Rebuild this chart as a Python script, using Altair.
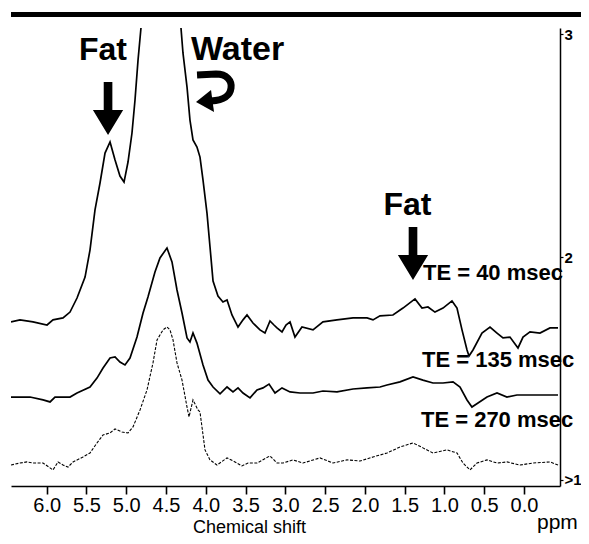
import altair as alt
import pandas as pd

# ---------------- data ----------------
# TE = 40 msec (top trace)
te40_ppm = [6.449, 6.336, 6.172, 5.996, 5.921, 5.795, 5.707, 5.619, 5.518, 5.456,
            5.393, 5.330, 5.267, 5.204, 5.141, 5.079, 5.028, 4.978, 4.928, 4.890,
            4.852, 4.815, 4.752, 4.563, 4.375, 4.312, 4.287, 4.236, 4.199, 4.161,
            4.111, 4.073, 4.035, 3.985, 3.947, 3.909, 3.847, 3.784, 3.733, 3.671,
            3.595, 3.532, 3.482, 3.407, 3.319, 3.256, 3.193, 3.143, 3.105, 3.042,
            2.992, 2.941, 2.879, 2.791, 2.652, 2.527, 2.351, 2.149, 1.973, 1.898,
            1.810, 1.647, 1.521, 1.370, 1.282, 1.207, 1.119, 1.018, 0.905, 0.842,
            0.779, 0.716, 0.691, 0.641, 0.528, 0.427, 0.339, 0.264, 0.176, 0.075,
            0.012, -0.076, -0.201, -0.327, -0.428]
te40_sig = [1.709, 1.718, 1.709, 1.695, 1.718, 1.727, 1.753, 1.816, 1.910, 2.031,
            2.211, 2.332, 2.466, 2.516, 2.435, 2.363, 2.336, 2.426, 2.556, 2.704,
            2.883, 3.027, 3.287, 3.691, 3.287, 3.027, 2.915, 2.762, 2.614, 2.525,
            2.493, 2.448, 2.345, 2.197, 2.045, 1.892, 1.825, 1.798, 1.807, 1.740,
            1.686, 1.718, 1.740, 1.704, 1.673, 1.659, 1.713, 1.695, 1.682, 1.664,
            1.695, 1.709, 1.641, 1.686, 1.673, 1.709, 1.718, 1.727, 1.727, 1.718,
            1.736, 1.740, 1.771, 1.812, 1.771, 1.776, 1.753, 1.771, 1.803, 1.771,
            1.673, 1.583, 1.556, 1.583, 1.659, 1.686, 1.659, 1.637, 1.641, 1.592,
            1.641, 1.664, 1.659, 1.682, 1.682]

# TE = 135 msec (middle trace)
te135_ppm = [6.449, 6.210, 6.046, 5.958, 5.896, 5.707, 5.619, 5.456, 5.368, 5.292,
             5.204, 5.141, 5.079, 5.016, 4.953, 4.865, 4.789, 4.727, 4.639, 4.576,
             4.488, 4.425, 4.362, 4.299, 4.236, 4.199, 4.161, 4.111, 4.035, 3.972,
             3.909, 3.821, 3.733, 3.658, 3.595, 3.532, 3.444, 3.356, 3.281, 3.205,
             3.130, 3.042, 2.941, 2.816, 2.652, 2.527, 2.351, 2.149, 1.973, 1.810,
             1.722, 1.559, 1.395, 1.270, 1.144, 1.018, 0.892, 0.804, 0.716, 0.654,
             0.578, 0.465, 0.339, 0.214, 0.088, -0.113, -0.428]
te135_sig = [1.372, 1.372, 1.359, 1.350, 1.372, 1.372, 1.390, 1.417, 1.457, 1.502,
             1.547, 1.552, 1.529, 1.516, 1.547, 1.641, 1.749, 1.821, 1.933, 1.996,
             2.040, 1.978, 1.852, 1.749, 1.637, 1.619, 1.659, 1.614, 1.516, 1.448,
             1.417, 1.386, 1.417, 1.395, 1.413, 1.390, 1.368, 1.404, 1.413, 1.430,
             1.390, 1.413, 1.395, 1.390, 1.390, 1.399, 1.395, 1.408, 1.413, 1.417,
             1.426, 1.440, 1.462, 1.448, 1.435, 1.435, 1.440, 1.417, 1.359, 1.327,
             1.345, 1.372, 1.390, 1.372, 1.381, 1.381, 1.381]

# TE = 270 msec (bottom trace)
te270_ppm = [6.449, 6.336, 6.248, 6.172, 6.046, 5.921, 5.858, 5.795, 5.732, 5.669,
             5.544, 5.456, 5.368, 5.292, 5.204, 5.141, 5.053, 4.978, 4.915, 4.827,
             4.739, 4.664, 4.613, 4.538, 4.488, 4.450, 4.412, 4.362, 4.299, 4.236,
             4.211, 4.161, 4.098, 4.073, 4.010, 3.947, 3.859, 3.733, 3.633, 3.545,
             3.469, 3.356, 3.193, 3.105, 3.029, 2.904, 2.778, 2.564, 2.401, 2.225,
             2.061, 1.898, 1.722, 1.559, 1.395, 1.270, 1.144, 0.968, 0.842, 0.767,
             0.679, 0.591, 0.465, 0.339, 0.214, 0.050, -0.113, -0.327, -0.428]
te270_sig = [1.067, 1.076, 1.081, 1.076, 1.076, 1.045, 1.081, 1.067, 1.058, 1.081,
             1.103, 1.121, 1.166, 1.202, 1.211, 1.229, 1.215, 1.211, 1.238, 1.314,
             1.404, 1.525, 1.628, 1.673, 1.686, 1.673, 1.628, 1.525, 1.448, 1.327,
             1.283, 1.359, 1.314, 1.305, 1.135, 1.090, 1.067, 1.099, 1.081, 1.063,
             1.076, 1.076, 1.108, 1.076, 1.076, 1.090, 1.076, 1.099, 1.076, 1.090,
             1.085, 1.103, 1.121, 1.148, 1.166, 1.144, 1.121, 1.135, 1.121, 1.076,
             1.045, 1.076, 1.090, 1.076, 1.081, 1.067, 1.076, 1.081, 1.067]

ppm_ticks = [6.0, 5.5, 5.0, 4.5, 4.0, 3.5, 3.0, 2.5, 2.0, 1.5, 1.0, 0.5, 0.0]
signal_ticks = [1, 2, 3]

# annotations (data coordinates)
fat_text = ["Fat", "Fat"]
fat_ppm = [5.292, 1.464]
fat_sig = [2.883, 2.188]

water_text = ["Water"]
water_ppm = [3.601]
water_sig = [2.883]

te_text = ["TE = 40 msec", "TE = 135 msec", "TE = 270 msec"]
te_ppm = [1.270, 1.282, 1.295]
te_sig = [1.897, 1.507, 1.238]

arrow_ppm = [5.229, 1.395]
arrow_sig = [2.666, 2.016]

curl_ppm = [3.884]
curl_sig = [2.749]

unit_text = ["ppm"]
unit_ppm = [-0.164]
unit_sig = [0.780]

x_domain = [6.449, -0.453]
y_domain = [0.973, 3.027]

# ---------------- chart ----------------
NARROW = "Liberation Sans Narrow, Arial Narrow, sans-serif"
BOLD = "Liberation Sans, Arial, Helvetica, sans-serif"

x_enc = alt.X(
    "ppm:Q",
    scale=alt.Scale(domain=x_domain, nice=False, zero=False),
    axis=alt.Axis(
        values=ppm_ticks, format=".1f", grid=False,
        title="Chemical shift", titleX=238, titleY=46,
        titleAlign="center", titleBaseline="alphabetic",
        titleFont=NARROW, titleFontSize=18, titleFontWeight="normal", titleColor="black",
        labelFont=NARROW, labelFontSize=20, labelColor="black", labelPadding=1,
        labelFlush=False, labelOverlap=False,
        tickSize=8, tickWidth=1.6, tickColor="black",
        domainColor="black", domainWidth=1.5,
    ),
)
y_enc = alt.Y(
    "signal:Q",
    scale=alt.Scale(domain=y_domain, nice=False, zero=False),
    axis=alt.Axis(
        orient="right", values=signal_ticks, grid=False, title=None,
        labelExpr="datum.value == 1 ? '>1' : format(datum.value, 'd')",
        labelFont=BOLD, labelFontWeight="bold", labelFontSize=15, labelColor="black",
        labelPadding=1, labelFlush=False,
        tickSize=3, tickWidth=1.2, tickColor="black",
        domainColor="black", domainWidth=1.5,
    ),
)

df40 = pd.DataFrame({"ppm": te40_ppm, "signal": te40_sig})
df135 = pd.DataFrame({"ppm": te135_ppm, "signal": te135_sig})
df270 = pd.DataFrame({"ppm": te270_ppm, "signal": te270_sig})

line40 = alt.Chart(df40).mark_line(color="black", strokeWidth=1.7, clip=True).encode(x=x_enc, y=y_enc)
line135 = alt.Chart(df135).mark_line(color="black", strokeWidth=1.7, clip=True).encode(x=x_enc, y=y_enc)
line270 = alt.Chart(df270).mark_line(color="black", strokeWidth=1.1, strokeDash=[3, 1.5], clip=True).encode(x=x_enc, y=y_enc)

fat_df = pd.DataFrame({"ppm": fat_ppm, "signal": fat_sig, "text": fat_text})
fat_labels = alt.Chart(fat_df).mark_text(
    font=BOLD, fontWeight="bold", fontSize=32, align="center", baseline="alphabetic", color="black"
).encode(x=x_enc, y=y_enc, text="text:N")

water_df = pd.DataFrame({"ppm": water_ppm, "signal": water_sig, "text": water_text})
water_label = alt.Chart(water_df).mark_text(
    font=BOLD, fontWeight="bold", fontSize=34, align="center", baseline="alphabetic", color="black"
).encode(x=x_enc, y=y_enc, text="text:N")

te_df = pd.DataFrame({"ppm": te_ppm, "signal": te_sig, "text": te_text})
te_labels = alt.Chart(te_df).mark_text(
    font=BOLD, fontWeight="bold", fontSize=22, align="left", baseline="alphabetic", color="black"
).encode(x=x_enc, y=y_enc, text="text:N")

unit_df = pd.DataFrame({"ppm": unit_ppm, "signal": unit_sig, "text": unit_text})
unit_label = alt.Chart(unit_df).mark_text(
    font=NARROW, fontSize=21, align="left", baseline="alphabetic", color="black"
).encode(x=x_enc, y=y_enc, text="text:N")

ARROW = "M -0.16 -0.98 L 0.16 -0.98 L 0.16 0.056 L 0.56 0.056 L 0 0.98 L -0.56 0.056 L -0.16 0.056 Z"
arr_df = pd.DataFrame({"ppm": arrow_ppm, "signal": arrow_sig})
arrows = alt.Chart(arr_df).mark_point(
    shape=ARROW, filled=True, fill="black", size=2916, opacity=1
).encode(x=x_enc, y=y_enc)

CURL_ARC = "M -0.9 -0.75 L 0.05 -0.8 C 0.6 -0.8 0.85 -0.45 0.8 -0.1 C 0.75 0.3 0.45 0.5 -0.2 0.55"
CURL_HEAD = "M -0.95 0.6 L -0.2 0.0 L -0.05 1.1 Z"
curl_df = pd.DataFrame({"ppm": curl_ppm, "signal": curl_sig})
curl_arc = alt.Chart(curl_df).mark_point(
    shape=CURL_ARC, filled=False, stroke="black", strokeWidth=7, size=1600, opacity=1
).encode(x=x_enc, y=y_enc)
curl_head = alt.Chart(curl_df).mark_point(
    shape=CURL_HEAD, filled=True, fill="black", size=1600, opacity=1
).encode(x=x_enc, y=y_enc)

top_bar = alt.Chart(pd.DataFrame({"k": [0]})).mark_rule(color="black", strokeWidth=5).encode(
    x=alt.value(0), x2=alt.value(570), y=alt.value(-13.5)
)

chart = alt.layer(
    line40, line135, line270, fat_labels, water_label, te_labels, unit_label,
    arrows, curl_arc, curl_head, top_bar
).properties(
    width=549, height=458,
    autosize=alt.AutoSizeParams(type="none"),
    padding={"left": 3, "top": 20, "right": 21, "bottom": 50},
    background="white",
).configure_view(stroke=None)

chart.save("out.html", embed_options={"renderer": "svg", "actions": False})
